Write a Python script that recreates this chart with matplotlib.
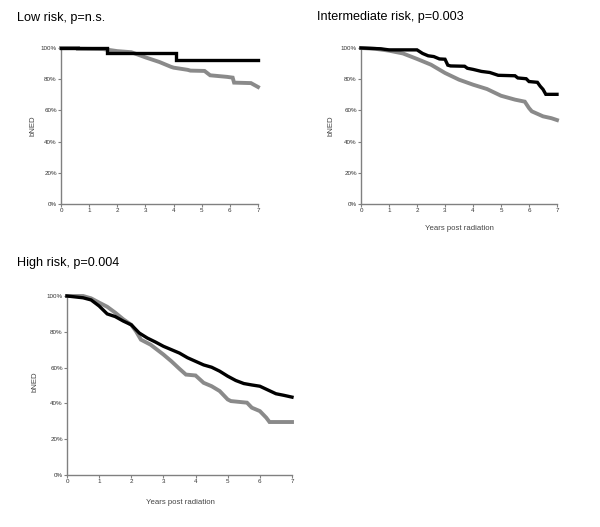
import matplotlib
matplotlib.use("Agg")
import matplotlib.pyplot as plt
from matplotlib.ticker import PercentFormatter

plt.rcParams["font.family"] = ["Liberation Sans", "DejaVu Sans"]

# survival curves as (time, % bNED) vertices; repeated times are vertical drops

# Low risk
low_t_black = [0, 1.65, 1.65, 4.1, 4.1, 7.0]
low_s_black = [100, 100, 96.5, 96.5, 92.3, 92.3]
low_t_gray = [0, 0.6, 0.6, 1.5, 2.0, 2.5, 3.0, 3.5, 3.9, 4.0, 4.5, 4.6, 5.1, 5.3, 5.9, 6.1, 6.15, 6.75, 7.0]
low_s_gray = [100, 100, 99.5, 99.3, 98.0, 97.3, 94.0, 91.0, 88.0, 87.4, 86.0, 85.5, 85.3, 82.5, 81.5, 81.0, 77.8, 77.5, 75.0]

# Intermediate risk
int_t_black = [0, 0.7, 1.0, 2.0, 2.2, 2.4, 2.6, 2.8, 3.0, 3.1, 3.2, 3.7, 3.8, 4.0, 4.3, 4.6, 4.9, 5.5, 5.6, 5.9, 6.0, 6.3, 6.4, 6.5, 6.6, 7.0]
int_s_black = [100, 99.5, 98.8, 98.8, 96.5, 95.0, 94.5, 93.0, 92.8, 89.0, 88.5, 88.3, 87.0, 86.3, 85.0, 84.3, 82.5, 82.2, 80.8, 80.3, 78.5, 78.0, 75.5, 73.5, 70.3, 70.3]
int_t_gray = [0, 0.5, 1.0, 1.5, 2.0, 2.5, 3.0, 3.5, 4.0, 4.5, 5.0, 5.5, 5.85, 6.0, 6.1, 6.5, 6.8, 7.0]
int_s_gray = [100, 99.5, 98.3, 96.5, 93.0, 89.3, 84.0, 79.7, 76.5, 73.7, 69.4, 66.9, 65.6, 61.5, 59.4, 56.2, 55.0, 53.8]

# High risk
high_t_black = [0, 0.5, 0.75, 1.0, 1.25, 1.5, 1.75, 2.0, 2.25, 2.5, 2.75, 3.0, 3.25, 3.5, 3.75, 4.0, 4.25, 4.5, 4.75, 5.0, 5.25, 5.5, 5.75, 6.0, 6.25, 6.5, 6.75, 7.0]
high_s_black = [100, 99.0, 97.8, 94.4, 90.0, 88.5, 86.0, 83.9, 79.3, 76.5, 74.3, 71.9, 70.0, 68.1, 65.5, 63.5, 61.5, 60.2, 58.0, 55.2, 52.8, 51.1, 50.3, 49.6, 47.5, 45.4, 44.5, 43.5]
high_t_gray = [0, 0.5, 0.75, 1.0, 1.25, 1.5, 1.75, 2.0, 2.15, 2.3, 2.6, 3.0, 3.25, 3.5, 3.7, 4.0, 4.25, 4.5, 4.75, 5.0, 5.1, 5.6, 5.75, 6.0, 6.2, 6.3, 7.0]
high_s_gray = [100, 100, 98.7, 96.3, 94.0, 90.7, 87.0, 83.9, 80.2, 75.6, 72.8, 67.3, 63.5, 59.3, 56.1, 55.6, 51.5, 49.6, 46.9, 42.2, 41.3, 40.4, 37.6, 35.7, 32.0, 29.6, 29.6]

W, H = 600, 527
fig = plt.figure(figsize=(6.0, 5.27), dpi=100)


def px_axes(left, top, right, bottom):
    return fig.add_axes([left / W, 1 - bottom / H, (right - left) / W, (bottom - top) / H])


def style(ax):
    ax.set_xlim(0, 7)
    ax.set_ylim(0, 100)
    ax.set_xticks(range(8))
    ax.set_yticks([0, 20, 40, 60, 80, 100])
    ax.yaxis.set_major_formatter(PercentFormatter(decimals=0))
    for s in ["top", "right"]:
        ax.spines[s].set_visible(False)
    for s in ["left", "bottom"]:
        ax.spines[s].set_color("#808080")
        ax.spines[s].set_linewidth(1.0)
    ax.tick_params(labelsize=4.5, colors="#808080", labelcolor="#333333",
                   length=2, width=0.8, pad=1)


def panel(ax, tb, sb, tg, sg):
    ax.plot(tg, sg, color="#8a8a8a", lw=2.8, clip_on=False, zorder=2, solid_joinstyle="miter")
    ax.plot(tb, sb, color="black", lw=2.4, clip_on=False, zorder=3, solid_joinstyle="miter")
    style(ax)


ax1 = px_axes(61, 48, 258, 204)
panel(ax1, low_t_black, low_s_black, low_t_gray, low_s_gray)
ax2 = px_axes(361, 48, 557, 204)
panel(ax2, int_t_black, int_s_black, int_t_gray, int_s_gray)
ax3 = px_axes(67, 296, 292, 475)
panel(ax3, high_t_black, high_s_black, high_t_gray, high_s_gray)

tkw = dict(fontsize=9.1, color="black", va="center", ha="left")
fig.text(17 / W, 1 - 18 / H, "Low risk, p=n.s.", **tkw)
fig.text(317 / W, 1 - 17 / H, "Intermediate risk, p=0.003", **tkw)
fig.text(17 / W, 1 - 263 / H, "High risk, p=0.004", **tkw)

lkw = dict(fontsize=5.6, color="#444444", va="center", ha="center")
fig.text(33 / W, 1 - 126 / H, "bNED", rotation=90, **lkw)
fig.text(331 / W, 1 - 126 / H, "bNED", rotation=90, **lkw)
fig.text(35 / W, 1 - 382 / H, "bNED", rotation=90, **lkw)
fig.text(459 / W, 1 - 229 / H, "Years post radiation", **lkw)
fig.text(180 / W, 1 - 503 / H, "Years post radiation", **lkw)

fig.savefig("out.png", dpi=100, facecolor="white")
